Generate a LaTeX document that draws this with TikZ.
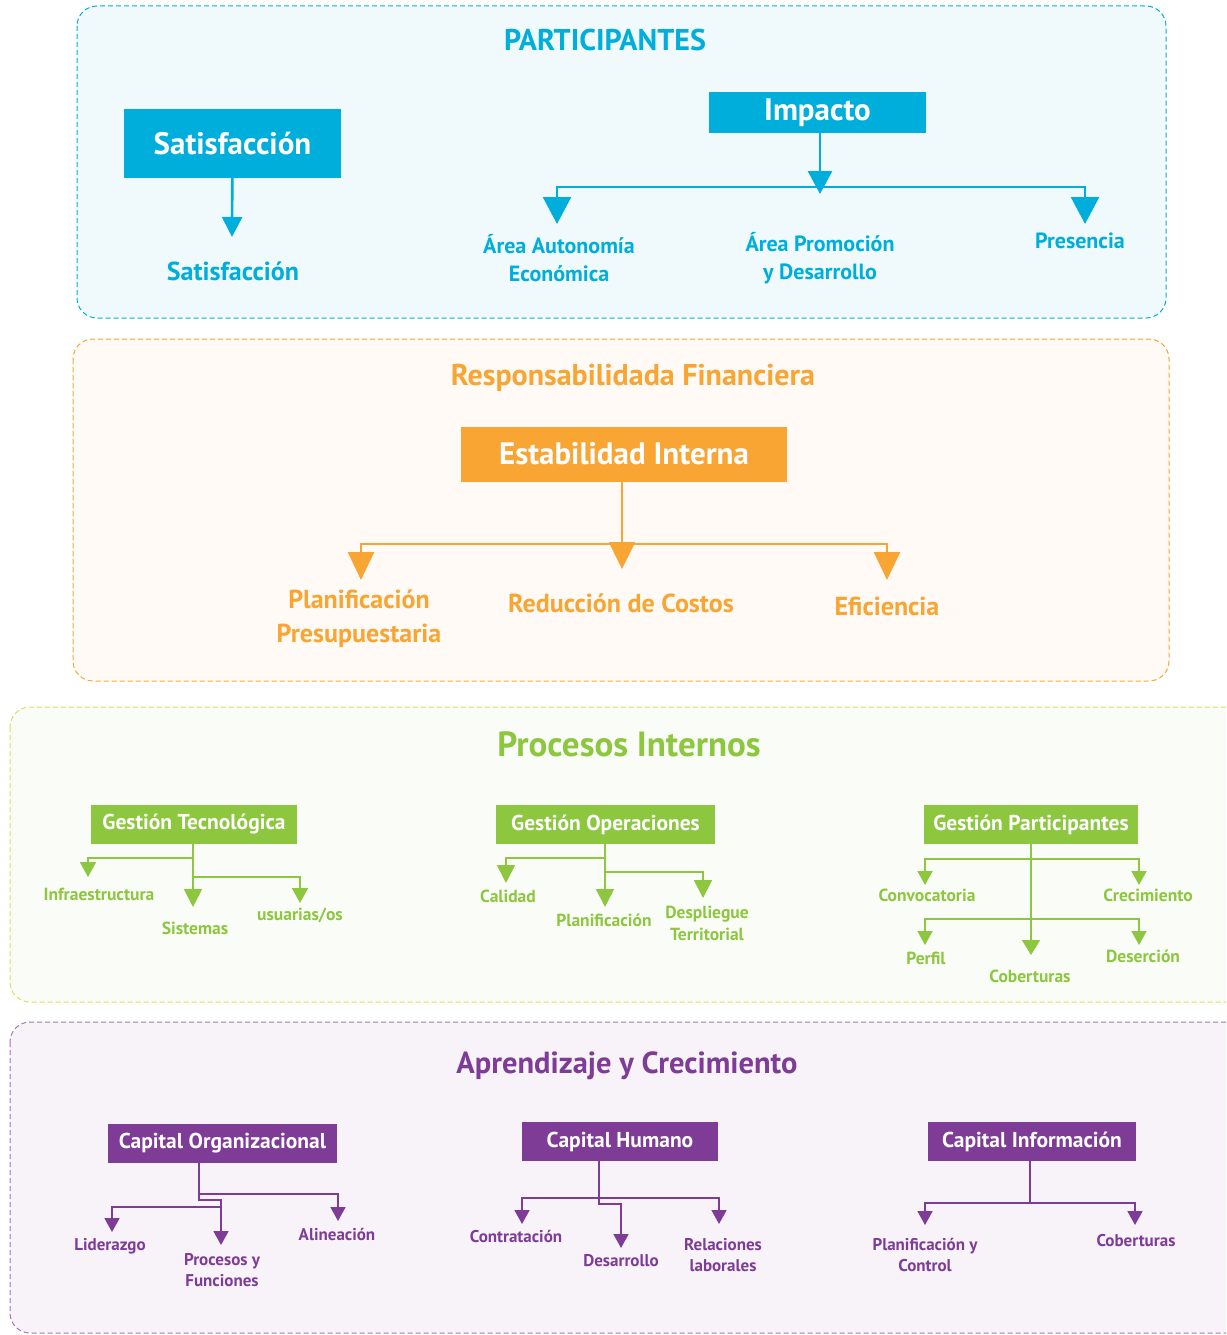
\documentclass[tikz,border=0pt]{standalone}
\usepackage{fontspec}
\setmainfont{PT Sans}
\usetikzlibrary{arrows.meta, positioning}
\definecolor{azul}{HTML}{00AEDB}
\definecolor{naranja}{HTML}{F9A533}
\definecolor{verde}{HTML}{8DC63F}
\definecolor{morado}{HTML}{7E3C96}
\definecolor{bordeverde}{HTML}{D9E05C}
\newcommand{\fs}[2]{\bfseries\fontsize{#1}{#2}\selectfont}

\begin{document}
\begin{tikzpicture}[x=1pt, y=-1pt,
    panel/.style={draw=#1, dash pattern=on 5pt off 3pt, line width=1pt, rounded corners=20pt},
    caja/.style={fill=#1, text=white, inner sep=0pt},
    etiq/.style={text=#1, align=center, inner sep=0pt},
    linea/.style={draw=#1, line width=2.6pt},
    delgada/.style={draw=#1, line width=1.8pt}]
    \clip (0,0) rectangle (1226,1335);

    % paneles
    \draw[panel=azul, fill=azul!6] (77,6) rectangle (1166,318);
    \draw[panel=naranja, fill=naranja!5] (73,339) rectangle (1169,681);
    \draw[panel=bordeverde, fill=verde!4] (10,707) rectangle (1250,1002);
    \draw[panel=morado!70, fill=morado!6] (10,1022) rectangle (1250,1333);

    \node[etiq=azul, font=\fs{30}{34}] (t1) at (605,40) {PARTICIPANTES};
    \node[etiq=naranja, font=\fs{30}{34}] (t2) at (633,378) {Responsabilidada Financiera};
    \node[etiq=verde, font=\fs{35}{38}] (t3) at (629,744) {Procesos Internos};
    \node[etiq=morado, font=\fs{30.5}{34}] (t4) at (627,1066) {Aprendizaje y Crecimiento};

    % participantes
    \node[caja=azul, minimum width=217, minimum height=69, font=\fs{31}{34}] (sat) at (232.5,143.5) {Satisfacción};
    \node[caja=azul, minimum width=217, minimum height=41, font=\fs{31}{34}] (imp) at (817.5,112.5) {Impacto};
    \node[etiq=azul, font=\fs{26}{30}] (sat-l) at (233,271) {Satisfacción};
    \node[etiq=azul, font=\fs{22}{28}] (aut) at (559,258) {Área Autonomía\\Económica};
    \node[etiq=azul, font=\fs{22}{28}] (pro) at (820,258) {Área Promoción\\y Desarrollo};
    \node[etiq=azul, font=\fs{22}{28}] (pre) at (1080,241) {Presencia};
    \coordinate (sat-t) at (232,237);
    \coordinate (imp-a) at (820,187);
    \coordinate (pro-t) at (820,194);
    \coordinate (aut-t) at (557,224);
    \coordinate (pre-t) at (1085,224);
    \draw[linea=azul, -{Triangle[width=20pt,length=20pt]}] (sat) -- (sat-t);
    \draw[linea=azul, -{Triangle[width=24pt,length=23pt]}] (imp.south -| imp-a) -- (pro-t);
    \draw[linea=azul, -{Triangle[width=28pt,length=27pt]}] (imp-a) -| (aut-t);
    \draw[linea=azul, -{Triangle[width=28pt,length=27pt]}] (imp-a) -| (pre-t);

    % responsabilidad financiera
    \node[caja=naranja, minimum width=326, minimum height=55, font=\fs{31}{34}] (ei) at (624,454) {Estabilidad Interna};
    \node[etiq=naranja, font=\fs{26}{34}] (plp) at (359,619) {Planificación\\Presupuestaria};
    \node[etiq=naranja, font=\fs{26}{34}] (red) at (621,603) {Reducción de Costos};
    \node[etiq=naranja, font=\fs{26}{34}] (efi) at (887,606) {Eficiencia};
    \coordinate (ei-a) at (622,544);
    \coordinate (red-t) at (622,569);
    \coordinate (plp-t) at (361,580);
    \coordinate (efi-t) at (887,580);
    \draw[linea=naranja, -{Triangle[width=26pt,length=27pt]}] (ei.south -| ei-a) -- (red-t);
    \draw[linea=naranja, -{Triangle[width=26pt,length=28pt]}] (ei-a) -| (plp-t);
    \draw[linea=naranja, -{Triangle[width=26pt,length=28pt]}] (ei-a) -| (efi-t);

    % procesos internos
    \node[caja=verde, minimum width=206, minimum height=39, font=\fs{21.5}{24}] (gt) at (194,824.5) {Gestión Tecnológica};
    \node[caja=verde, minimum width=219, minimum height=39, font=\fs{21.5}{24}] (go) at (605.5,824.5) {Gestión Operaciones};
    \node[caja=verde, minimum width=214, minimum height=39, font=\fs{21.5}{24}] (gp) at (1031,824.5) {Gestión Participantes};
    \node[etiq=verde, font=\fs{17.5}{22}] (inf) at (99,894) {Infraestructura};
    \node[etiq=verde, font=\fs{17.5}{22}] (sis) at (195,928) {Sistemas};
    \node[etiq=verde, font=\fs{17.5}{22}] (usu) at (300,915) {usuarias/os};
    \node[etiq=verde, font=\fs{17.5}{22}] (cal) at (508,896) {Calidad};
    \node[etiq=verde, font=\fs{17.5}{22}] (pla) at (604,920) {Planificación};
    \node[etiq=verde, font=\fs{17.5}{22}] (des) at (707,923) {Despliegue\\Territorial};
    \node[etiq=verde, font=\fs{17.5}{22}] (con) at (927,895) {Convocatoria};
    \node[etiq=verde, font=\fs{17.5}{22}] (cre) at (1148,895) {Crecimiento};
    \node[etiq=verde, font=\fs{17.5}{22}] (per) at (926,958) {Perfil};
    \node[etiq=verde, font=\fs{17.5}{22}] (cob) at (1030,976) {Coberturas};
    \node[etiq=verde, font=\fs{17.5}{22}] (der) at (1143,956) {Deserción};
    \coordinate (gt-a) at (193,858);
    \coordinate (gt-b) at (193,877);
    \coordinate (sis-t) at (193,907);
    \coordinate (inf-t) at (88,877);
    \coordinate (usu-t) at (300,903);
    \draw[delgada=verde, -{Triangle[width=18pt,length=18pt]}] (gt.south -| gt-a) -- (sis-t);
    \draw[delgada=verde, -{Triangle[width=16pt,length=15pt]}] (gt-a) -| (inf-t);
    \draw[delgada=verde, -{Triangle[width=16pt,length=15pt]}] (gt-b) -| (usu-t);
    \coordinate (go-a) at (605,858);
    \coordinate (go-b) at (605,872);
    \coordinate (pla-t) at (605,907);
    \coordinate (cal-t) at (506,883);
    \coordinate (des-t) at (703,898);
    \draw[delgada=verde, -{Triangle[width=18pt,length=18pt]}] (go.south -| go-a) -- (pla-t);
    \draw[delgada=verde, -{Triangle[width=18pt,length=18pt]}] (go-a) -| (cal-t);
    \draw[delgada=verde, -{Triangle[width=18pt,length=18pt]}] (go-b) -| (des-t);
    \coordinate (gp-a) at (1031,859);
    \coordinate (gp-b) at (1031,919);
    \coordinate (cob-t) at (1031,955);
    \coordinate (con-t) at (925,885);
    \coordinate (cre-t) at (1139,885);
    \coordinate (per-t) at (925,945);
    \coordinate (der-t) at (1139,945);
    \draw[delgada=verde, -{Triangle[width=18pt,length=15pt]}] (gp.south -| gp-a) -- (cob-t);
    \draw[delgada=verde, -{Triangle[width=15pt,length=14pt]}] (gp-a) -| (con-t);
    \draw[delgada=verde, -{Triangle[width=15pt,length=14pt]}] (gp-a) -| (cre-t);
    \draw[delgada=verde, -{Triangle[width=15pt,length=14pt]}] (gp-b) -| (per-t);
    \draw[delgada=verde, -{Triangle[width=15pt,length=14pt]}] (gp-b) -| (der-t);

    % aprendizaje y crecimiento
    \node[caja=morado, minimum width=229, minimum height=39, font=\fs{21.5}{24}] (co) at (222.5,1143.5) {Capital Organizacional};
    \node[caja=morado, minimum width=196, minimum height=39, font=\fs{21.5}{24}] (ch) at (620,1141.5) {Capital Humano};
    \node[caja=morado, minimum width=208, minimum height=39, font=\fs{21.5}{24}] (ci) at (1032,1141.5) {Capital Información};
    \node[etiq=morado, font=\fs{17}{21}] (lid) at (110,1246) {Liderazgo};
    \node[etiq=morado, font=\fs{17}{21}] (pyf) at (222,1270) {Procesos y\\Funciones};
    \node[etiq=morado, font=\fs{17}{21}] (ali) at (337,1234) {Alineación};
    \node[etiq=morado, font=\fs{17}{21}] (cont) at (516,1236) {Contratación};
    \node[etiq=morado, font=\fs{17}{21}] (desa) at (621,1261) {Desarrollo};
    \node[etiq=morado, font=\fs{17}{21}] (rel) at (723,1255) {Relaciones\\laborales};
    \node[etiq=morado, font=\fs{17}{21}] (plc) at (925,1255) {Planificación y\\Control};
    \node[etiq=morado, font=\fs{17}{21}] (cobi) at (1136,1241) {Coberturas};
    \coordinate (co-a) at (199,1194);
    \coordinate (co-b) at (221,1207);
    \coordinate (co-c) at (221,1200);
    \coordinate (pyf-t) at (221,1245);
    \coordinate (ali-t) at (338,1221);
    \coordinate (lid-t) at (112,1232);
    \draw[delgada=morado, -{Triangle[width=15pt,length=14pt]}] (co.south -| co-a) |- (co-c) -- (pyf-t);
    \draw[delgada=morado, -{Triangle[width=15pt,length=14pt]}] (co-a) -| (ali-t);
    \draw[delgada=morado, -{Triangle[width=15pt,length=14pt]}] (co-b) -| (lid-t);
    \coordinate (ch-a) at (599,1198);
    \coordinate (ch-c) at (621,1204);
    \coordinate (desa-t) at (621,1248);
    \coordinate (cont-t) at (522,1224);
    \coordinate (rel-t) at (719,1224);
    \draw[delgada=morado, -{Triangle[width=15pt,length=14pt]}] (ch.south -| ch-a) |- (ch-c) -- (desa-t);
    \draw[delgada=morado, -{Triangle[width=15pt,length=14pt]}] (ch-a) -| (cont-t);
    \draw[delgada=morado, -{Triangle[width=15pt,length=14pt]}] (ch-a) -| (rel-t);
    \coordinate (ci-a) at (1030,1203);
    \coordinate (plc-t) at (925,1225);
    \coordinate (cobi-t) at (1135,1225);
    \draw[delgada=morado] (ci.south -| ci-a) -- (ci-a);
    \draw[delgada=morado, -{Triangle[width=15pt,length=14pt]}] (ci-a) -| (plc-t);
    \draw[delgada=morado, -{Triangle[width=15pt,length=14pt]}] (ci-a) -| (cobi-t);
\end{tikzpicture}
\end{document}
